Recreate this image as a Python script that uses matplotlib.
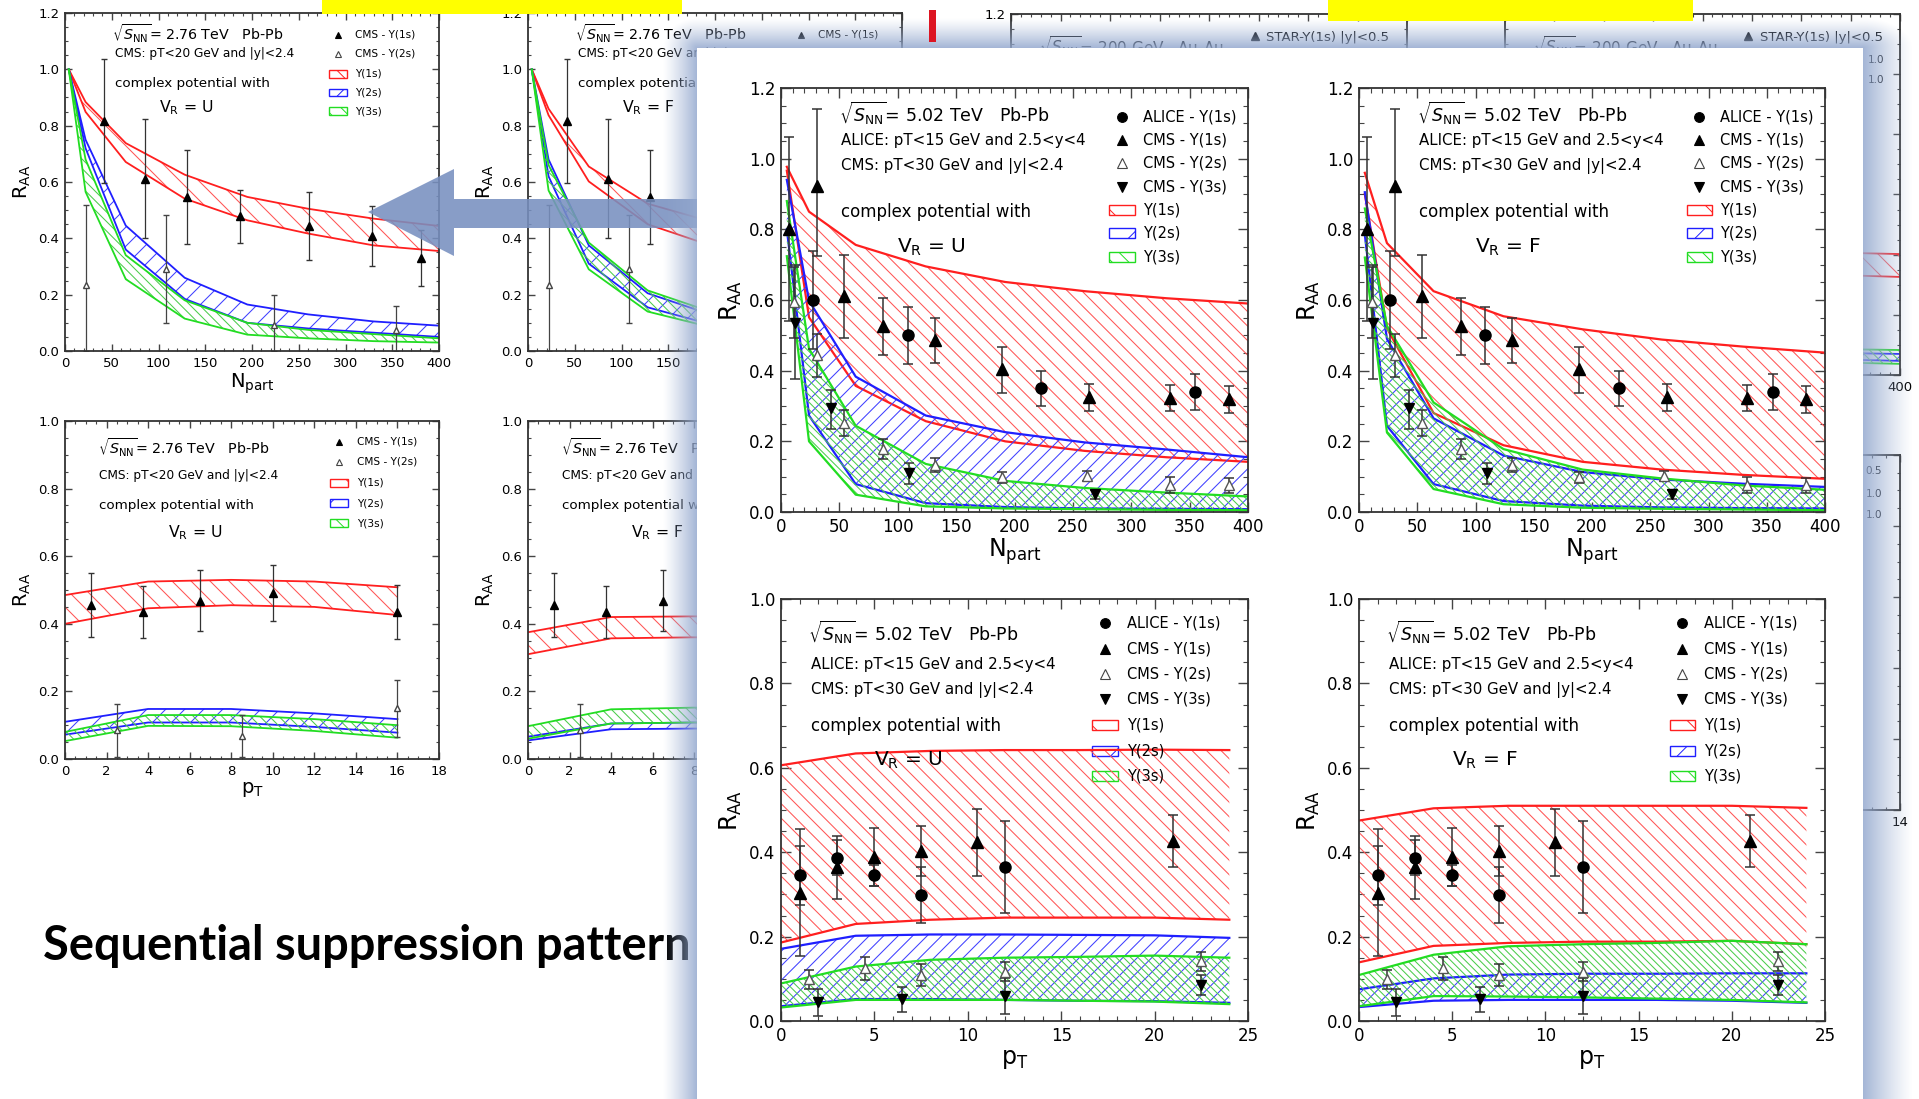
import numpy as np
import matplotlib
matplotlib.use("Agg")
import matplotlib.pyplot as plt
from matplotlib.patches import Rectangle, Polygon
from matplotlib.collections import LineCollection
from matplotlib.transforms import IdentityTransform
from matplotlib.ticker import MultipleLocator, FormatStrFormatter, FuncFormatter

plt.rcParams['font.family'] = ['DejaVu Sans']
plt.rcParams['mathtext.fontset'] = 'dejavusans'
plt.rcParams['hatch.linewidth'] = 0.7

W, H = 1919, 1099
PANEL = (697, 48, 1863, H)   # zoomed picture laid over the slide

# ---------------- 2.76 TeV (background slide) ----------------
npart_276 = [4, 22, 65, 128, 195, 260, 330, 400]
u276_1s_hi = [1.0, 0.884, 0.738, 0.626, 0.547, 0.505, 0.47, 0.444]
u276_1s_lo = [1.0, 0.849, 0.671, 0.541, 0.464, 0.417, 0.375, 0.355]
u276_2s_hi = [1.0, 0.75, 0.445, 0.26, 0.165, 0.13, 0.105, 0.09]
u276_2s_lo = [1.0, 0.72, 0.36, 0.185, 0.10, 0.08, 0.065, 0.05]
u276_3s_hi = [1.0, 0.68, 0.34, 0.18, 0.10, 0.075, 0.06, 0.045]
u276_3s_lo = [1.0, 0.565, 0.255, 0.115, 0.058, 0.045, 0.035, 0.03]
f276_1s_hi = [1.0, 0.86, 0.655, 0.523, 0.46, 0.42, 0.39, 0.37]
f276_1s_lo = [1.0, 0.837, 0.602, 0.45, 0.375, 0.335, 0.305, 0.285]
f276_2s_hi = [1.0, 0.68, 0.375, 0.205, 0.13, 0.10, 0.085, 0.075]
f276_2s_lo = [1.0, 0.62, 0.31, 0.155, 0.095, 0.075, 0.06, 0.05]
f276_3s_hi = [1.0, 0.66, 0.385, 0.215, 0.14, 0.11, 0.09, 0.08]
f276_3s_lo = [1.0, 0.57, 0.29, 0.14, 0.085, 0.065, 0.05, 0.045]

cms276_1s_npart = [42, 86, 130, 187, 261, 328, 381]
cms276_1s_raa = [0.816, 0.612, 0.547, 0.478, 0.443, 0.408, 0.33]
cms276_1s_err = [0.22, 0.21, 0.167, 0.094, 0.12, 0.106, 0.099]
cms276_2s_npart = [22, 108, 224, 354]
cms276_2s_raa = [0.235, 0.29, 0.091, 0.073]
cms276_2s_lo = [0.235, 0.19, 0.091, 0.073]
cms276_2s_hi = [0.282, 0.194, 0.107, 0.086]

pt_276 = [0, 4, 8, 12, 16]
u276pt_1s_hi = [0.485, 0.525, 0.53, 0.525, 0.508]
u276pt_1s_lo = [0.40, 0.446, 0.455, 0.45, 0.426]
u276pt_2s_hi = [0.11, 0.148, 0.148, 0.135, 0.118]
u276pt_2s_lo = [0.072, 0.108, 0.108, 0.095, 0.078]
u276pt_3s_hi = [0.08, 0.13, 0.13, 0.118, 0.10]
u276pt_3s_lo = [0.053, 0.098, 0.097, 0.083, 0.063]
f276pt_1s_hi = [0.375, 0.42, 0.422, 0.42, 0.41]
f276pt_1s_lo = [0.31, 0.357, 0.36, 0.358, 0.35]
f276pt_2s_hi = [0.066, 0.105, 0.108, 0.105, 0.098]
f276pt_2s_lo = [0.055, 0.088, 0.09, 0.088, 0.08]
f276pt_3s_hi = [0.097, 0.147, 0.152, 0.15, 0.14]
f276pt_3s_lo = [0.06, 0.105, 0.108, 0.105, 0.095]

cms276_1s_pt = [1.25, 3.75, 6.5, 10, 16]
cms276_1s_pt_raa = [0.455, 0.435, 0.468, 0.49, 0.435]
cms276_1s_pt_err = [0.095, 0.076, 0.09, 0.083, 0.08]
cms276_2s_pt = [2.5, 8.5, 16]
cms276_2s_pt_raa = [0.085, 0.068, 0.15]
cms276_2s_pt_lo = [0.08, 0.063, 0.085]
cms276_2s_pt_hi = [0.078, 0.062, 0.085]

# 200 GeV plot, only its right edge is visible
npart_200 = [360, 400]
b200_1s_hi = [0.405, 0.402]
b200_1s_lo = [0.33, 0.326]
b200_2s_hi = [0.072, 0.07]
b200_2s_lo = [0.05, 0.047]
b200_3s_hi = [0.085, 0.083]
b200_3s_lo = [0.04, 0.037]

# ---------------- 5.02 TeV (zoomed picture) ----------------
npart_502 = [5, 24, 64, 124, 192, 260, 330, 400]
u_1s_hi = [0.977, 0.85, 0.756, 0.695, 0.651, 0.625, 0.605, 0.59]
u_1s_lo = [0.966, 0.551, 0.357, 0.257, 0.20, 0.173, 0.155, 0.142]
u_2s_hi = [0.94, 0.598, 0.383, 0.273, 0.226, 0.197, 0.177, 0.155]
u_2s_lo = [0.80, 0.273, 0.079, 0.025, 0.014, 0.01, 0.009, 0.008]
u_3s_hi = [0.88, 0.462, 0.244, 0.136, 0.088, 0.068, 0.055, 0.044]
u_3s_lo = [0.724, 0.20, 0.049, 0.016, 0.01, 0.008, 0.006, 0.005]
f_1s_hi = [0.96, 0.761, 0.625, 0.554, 0.517, 0.488, 0.468, 0.451]
f_1s_lo = [0.90, 0.52, 0.28, 0.189, 0.142, 0.12, 0.105, 0.094]
f_2s_hi = [0.905, 0.49, 0.265, 0.16, 0.113, 0.092, 0.08, 0.071]
f_2s_lo = [0.785, 0.244, 0.079, 0.031, 0.018, 0.013, 0.011, 0.01]
f_3s_hi = [0.859, 0.527, 0.31, 0.178, 0.12, 0.095, 0.075, 0.063]
f_3s_lo = [0.72, 0.225, 0.065, 0.022, 0.012, 0.009, 0.007, 0.005]

alice_npart = [27, 108.5, 223, 355]
alice_npart_raa = [0.60, 0.50, 0.35, 0.34]
alice_npart_err = [0.14, 0.08, 0.05, 0.05]
cms_1s_npart = [7, 30.5, 54, 87.5, 131.5, 189, 264, 333, 384]
cms_1s_npart_raa = [0.80, 0.924, 0.612, 0.527, 0.488, 0.404, 0.325, 0.323, 0.32]
cms_1s_npart_lo = [0.26, 0.20, 0.119, 0.084, 0.066, 0.068, 0.039, 0.037, 0.04]
cms_1s_npart_hi = [0.26, 0.216, 0.115, 0.08, 0.06, 0.063, 0.036, 0.037, 0.037]
cms_2s_npart = [11, 30.5, 54, 87.5, 131.5, 189, 262, 333, 384]
cms_2s_npart_raa = [0.593, 0.443, 0.252, 0.178, 0.133, 0.098, 0.102, 0.076, 0.076]
cms_2s_npart_err = [0.1, 0.062, 0.038, 0.029, 0.02, 0.016, 0.014, 0.022, 0.021]
cms_3s_npart = [12, 43, 109.5, 269]
cms_3s_npart_raa = [0.536, 0.294, 0.11, 0.052]
cms_3s_npart_lo = [0.16, 0.058, 0.031, 0.015]
cms_3s_npart_hi = [0.164, 0.052, 0.029, 0.011]

pt_502 = [0, 4, 8, 12, 16, 20, 24]
upt_1s_hi = [0.606, 0.634, 0.64, 0.642, 0.642, 0.643, 0.642]
upt_1s_lo = [0.186, 0.23, 0.24, 0.245, 0.245, 0.245, 0.24]
upt_2s_hi = [0.171, 0.202, 0.205, 0.205, 0.204, 0.203, 0.197]
upt_2s_lo = [0.035, 0.052, 0.052, 0.05, 0.048, 0.047, 0.043]
upt_3s_hi = [0.089, 0.129, 0.145, 0.15, 0.152, 0.155, 0.15]
upt_3s_lo = [0.032, 0.05, 0.05, 0.05, 0.048, 0.046, 0.04]
fpt_1s_hi = [0.475, 0.504, 0.51, 0.51, 0.51, 0.51, 0.505]
fpt_1s_lo = [0.139, 0.178, 0.185, 0.188, 0.188, 0.19, 0.182]
fpt_2s_hi = [0.075, 0.101, 0.11, 0.112, 0.112, 0.113, 0.113]
fpt_2s_lo = [0.033, 0.048, 0.05, 0.05, 0.05, 0.048, 0.043]
fpt_3s_hi = [0.109, 0.157, 0.177, 0.182, 0.185, 0.19, 0.182]
fpt_3s_lo = [0.035, 0.059, 0.058, 0.056, 0.053, 0.05, 0.044]

alice_pt = [1, 3, 5, 7.5, 12]
alice_pt_raa = [0.345, 0.387, 0.345, 0.298, 0.365]
alice_pt_err = [0.07, 0.042, 0.025, 0.066, 0.108]
cms_1s_pt = [1, 3, 5, 7.5, 10.5, 21]
cms_1s_pt_raa = [0.304, 0.364, 0.389, 0.403, 0.423, 0.427]
cms_1s_pt_err = [0.15, 0.075, 0.068, 0.059, 0.08, 0.062]
cms_2s_pt = [1.5, 4.5, 7.5, 12, 22.5]
cms_2s_pt_raa = [0.099, 0.125, 0.109, 0.117, 0.141]
cms_2s_pt_err = [0.022, 0.027, 0.026, 0.022, 0.023]
cms_3s_pt = [2, 6.5, 12, 22.5]
cms_3s_pt_raa = [0.045, 0.051, 0.059, 0.085]
cms_3s_pt_err = [0.032, 0.03, 0.043, 0.023]

# line colour, hatch colour, mpl hatch (legend boxes), hatch direction, spacing factor
STY = {'1s': ('#ff1f1f', '#ff5555', '\\', '\\', 1.0),
       '2s': ('#1f1fff', '#4040ff', '/', '/', 1.0),
       '3s': ('#22dd22', '#4ccc4c', '\\\\', '\\', 0.5)}


def px_box(x0, y0, x1, y1):
    return [x0 / W, 1 - y1 / H, (x1 - x0) / W, (y1 - y0) / H]


def under_panel(px, py):
    return PANEL[0] <= px <= PANEL[2] and py >= PANEL[1] - 4


def style(ax, xmaj, xmin, ymaj, ymin, fs, tl, box=None):
    ax.xaxis.set_major_locator(MultipleLocator(xmaj))
    ax.xaxis.set_minor_locator(MultipleLocator(xmin))
    ax.yaxis.set_major_locator(MultipleLocator(ymaj))
    ax.yaxis.set_minor_locator(MultipleLocator(ymin))
    if box is None:
        ax.xaxis.set_major_formatter(FormatStrFormatter('%d'))
        ax.yaxis.set_major_formatter(FormatStrFormatter('%.1f'))
    else:
        # background slide plot: tick labels that sit under the zoomed picture are not shown
        (a, b), (c, d) = ax.get_xlim(), ax.get_ylim()

        def fx(v, p):
            px = box[0] + (v - a) / (b - a) * (box[2] - box[0])
            return '' if under_panel(px, box[3] + 12) else '%d' % v

        def fy(v, p):
            py = box[3] - (v - c) / (d - c) * (box[3] - box[1])
            return '' if under_panel(box[0] - 15, py) else '%.1f' % v
        ax.xaxis.set_major_formatter(FuncFormatter(fx))
        ax.yaxis.set_major_formatter(FuncFormatter(fy))
    ax.tick_params(which='both', direction='in', top=True, right=True, color='#444')
    ax.tick_params(which='major', length=tl, width=1.0, labelsize=fs, pad=4)
    ax.tick_params(which='minor', length=tl * 0.5, width=0.8)
    for s in ax.spines.values():
        s.set_linewidth(1.3)
        s.set_color('#333')


def bands(ax, box, x, items, lw, step):
    # hatched model bands: diagonal lines (pixel spacing) clipped to the band polygon
    X0, X1 = box[0], box[2]
    Yb, Yt = H - box[3], H - box[1]
    for lo, hi, key in items:
        lc, hc, _, direction, f = STY[key]
        poly = ax.fill_between(x, lo, hi, facecolor='none', edgecolor='none', linewidth=0)
        s = step * f
        if direction == '\\':
            segs = [[(c - Yt, Yt), (c - Yb, Yb)] for c in np.arange(X0 + Yb, X1 + Yt, s)]
        else:
            segs = [[(Yb - c, Yb), (Yt - c, Yt)] for c in np.arange(Yb - X1, Yt - X0, s)]
        hl = LineCollection(segs, colors=hc, linewidths=0.75, transform=IdentityTransform())
        ax.add_collection(hl, autolim=False)
        hl.set_clip_path(poly.get_paths()[0], ax.transData)
        ax.plot(x, hi, color=lc, lw=lw, solid_joinstyle='round')
        ax.plot(x, lo, color=lc, lw=lw, solid_joinstyle='round')


def legend(ax, box, mx, tx, ys, items, fs, ms, bw, bh):
    for y, item in zip(ys, items):
        if box is not None:
            px = box[0] + mx * (box[2] - box[0])
            py = box[3] - y * (box[3] - box[1])
            if under_panel(px, py):
                continue
        if item[0] == 'band':
            lc, hc, hatch = STY[item[2]][:3]
            ax.add_patch(Rectangle((mx - bw / 2, y - bh / 2), bw, bh, transform=ax.transAxes,
                                   facecolor='white', edgecolor=lc, hatch=hatch, lw=1.0))
        else:
            ax.plot([mx], [y], marker=item[2], ms=ms, mfc=item[3], mec=item[4], mew=0.8,
                    ls='none', transform=ax.transAxes)
        ax.text(tx, y, item[1], transform=ax.transAxes, fontsize=fs, va='center')


def bg_labels(ax, box, xlabel):
    ax.set_ylabel(r'R$_{\mathrm{AA}}$', fontsize=14)
    ax.yaxis.set_label_coords(-0.085, 0.5)
    # the x label of the right-hand column lies under the zoomed picture
    if not under_panel((box[0] + box[2]) / 2, box[3] + 30):
        ax.set_xlabel(xlabel, fontsize=14)
        ax.xaxis.set_label_coords(0.5, -0.062)


fig = plt.figure(figsize=(W / 100, H / 100), dpi=100)
fig.patch.set_facecolor('white')

bg = fig.add_axes([0, 0, 1, 1])
bg.set_xlim(0, W)
bg.set_ylim(H, 0)
bg.axis('off')

title = bg.text(43, 946, 'Sequential suppression pattern', fontsize=36,
                fontweight='bold', family='Lato', va='center', ha='left', color='black')

# ---------------- background 2.76 TeV plots ----------------
leg276 = [('mk', 'CMS - Y(1s)', '^', 'black', 'black'),
          ('mk', 'CMS - Y(2s)', '^', 'white', '#444'),
          ('band', 'Y(1s)', '1s'), ('band', 'Y(2s)', '2s'), ('band', 'Y(3s)', '3s')]

for box, vr, b1h, b1l, b2h, b2l, b3h, b3l in [
        ((65, 13, 439, 351), 'U', u276_1s_hi, u276_1s_lo, u276_2s_hi, u276_2s_lo, u276_3s_hi, u276_3s_lo),
        ((528, 13, 902, 351), 'F', f276_1s_hi, f276_1s_lo, f276_2s_hi, f276_2s_lo, f276_3s_hi, f276_3s_lo)]:
    ax = fig.add_axes(px_box(*box))
    bands(ax, box, npart_276, [(b1l, b1h, '1s'), (b2l, b2h, '2s'), (b3l, b3h, '3s')], 1.3, 19)
    ax.errorbar(cms276_1s_npart, cms276_1s_raa, yerr=cms276_1s_err, fmt='^', color='black',
                ecolor='#333', ms=6, elinewidth=0.9, capsize=2.5)
    ax.errorbar(cms276_2s_npart, cms276_2s_raa, yerr=[cms276_2s_lo, cms276_2s_hi], fmt='^',
                mfc='white', mec='#444', ecolor='#444', ms=5, elinewidth=0.9, capsize=2.5)
    ax.set_xlim(0, 400)
    ax.set_ylim(0, 1.2)
    style(ax, 50, 10, 0.2, 0.05, 9.5, 5, box)
    bg_labels(ax, box, r'N$_{\mathrm{part}}$')
    ax.text(0.125, 0.94, r'$\sqrt{S_{\mathrm{NN}}}$= 2.76 TeV   Pb-Pb', transform=ax.transAxes,
            fontsize=10.3, va='center')
    ax.text(0.135, 0.88, 'CMS: pT<20 GeV and |y|<2.4', transform=ax.transAxes, fontsize=8.7, va='center')
    ax.text(0.135, 0.79, 'complex potential with', transform=ax.transAxes, fontsize=9.7, va='center')
    ax.text(0.25, 0.72, r'V$_{\mathrm{R}}$ = ' + vr, transform=ax.transAxes, fontsize=11.3, va='center')
    legend(ax, box, 0.73, 0.775, [0.935, 0.88, 0.82, 0.765, 0.71], leg276, 7.6, 5, 0.05, 0.022)

for box, vr, b1h, b1l, b2h, b2l, b3h, b3l in [
        ((65, 421, 439, 759), 'U', u276pt_1s_hi, u276pt_1s_lo, u276pt_2s_hi, u276pt_2s_lo, u276pt_3s_hi, u276pt_3s_lo),
        ((528, 421, 902, 759), 'F', f276pt_1s_hi, f276pt_1s_lo, f276pt_2s_hi, f276pt_2s_lo, f276pt_3s_hi, f276pt_3s_lo)]:
    ax = fig.add_axes(px_box(*box))
    bands(ax, box, pt_276, [(b1l, b1h, '1s'), (b2l, b2h, '2s'), (b3l, b3h, '3s')], 1.3, 19)
    ax.errorbar(cms276_1s_pt, cms276_1s_pt_raa, yerr=cms276_1s_pt_err, fmt='^', color='black',
                ecolor='#333', ms=6, elinewidth=0.9, capsize=2.5)
    ax.errorbar(cms276_2s_pt, cms276_2s_pt_raa, yerr=[cms276_2s_pt_lo, cms276_2s_pt_hi], fmt='^',
                mfc='white', mec='#444', ecolor='#444', ms=5, elinewidth=0.9, capsize=2.5)
    ax.set_xlim(0, 18)
    ax.set_ylim(0, 1.0)
    style(ax, 2, 0.5, 0.2, 0.05, 9.5, 5, box)
    bg_labels(ax, box, r'p$_{\mathrm{T}}$')
    ax.text(0.088, 0.92, r'$\sqrt{S_{\mathrm{NN}}}$= 2.76 TeV   Pb-Pb', transform=ax.transAxes,
            fontsize=10.3, va='center')
    ax.text(0.09, 0.84, 'CMS: pT<20 GeV and |y|<2.4', transform=ax.transAxes, fontsize=8.7, va='center')
    ax.text(0.09, 0.75, 'complex potential with', transform=ax.transAxes, fontsize=9.7, va='center')
    ax.text(0.275, 0.67, r'V$_{\mathrm{R}}$ = ' + vr, transform=ax.transAxes, fontsize=11.3, va='center')
    legend(ax, box, 0.733, 0.78, [0.938, 0.879, 0.817, 0.757, 0.698], leg276, 7.6, 5, 0.05, 0.022)

# ---------------- background 200 GeV plots (mostly hidden) ----------------
for i, box in enumerate([(1011, 14, 1407, 375), (1505, 14, 1900, 375)]):
    ax = fig.add_axes(px_box(*box))
    if i == 1:
        bands(ax, box, npart_200, [(b200_1s_lo, b200_1s_hi, '1s'), (b200_2s_lo, b200_2s_hi, '2s'),
                                   (b200_3s_lo, b200_3s_hi, '3s')], 1.3, 19)
        ax.text(0.96, 0.873, '1.0', transform=ax.transAxes, fontsize=7.5, va='center', ha='right')
        ax.text(0.96, 0.817, '1.0', transform=ax.transAxes, fontsize=7.5, va='center', ha='right')
    ax.set_xlim(0, 400)
    ax.set_ylim(0, 1.2)
    style(ax, 50, 10, 0.2, 0.05, 9.5, 5, box)
    ax.text(0.07, 0.912, r'$\sqrt{S_{\mathrm{NN}}}$= 200 GeV   Au-Au', transform=ax.transAxes,
            fontsize=11, va='center')
    ax.plot([0.615], [0.94], marker='^', ms=5.5, color='black', transform=ax.transAxes)
    ax.text(0.645, 0.934, 'STAR-Y(1s) |y|<0.5', transform=ax.transAxes, fontsize=9.5, va='center')

box = (1505, 455, 1900, 810)
ax = fig.add_axes(px_box(*box))
ax.set_xlim(0, 14)
ax.set_ylim(0, 1.0)
style(ax, 2, 0.5, 0.2, 0.05, 9.5, 5, box)
for yy, s in [(0.955, '0.5'), (0.89, '1.0'), (0.831, '1.0')]:
    ax.text(0.955, yy, s, transform=ax.transAxes, fontsize=7.5, va='center', ha='right')

# ---------------- arrow, glow and the zoomed picture ----------------
ov = fig.add_axes([0, 0, 1, 1])
ov.set_xlim(0, W)
ov.set_ylim(H, 0)
ov.axis('off')
ov.patch.set_alpha(0)
ov.add_patch(Polygon([(368, 212), (454, 169), (454, 199), (700, 199), (700, 228), (454, 228), (454, 256)],
                     closed=True, facecolor='#7890c0', edgecolor='none', alpha=0.88, zorder=1))

gx, gy = np.meshgrid(np.arange(W) + 0.5, np.arange(H) + 0.5)
dist = np.sqrt((np.clip(PANEL[0] - gx, 0, None) / 34 + np.clip(gx - PANEL[2], 0, None) / 50) ** 2
               + (np.clip(PANEL[1] - gy, 0, None) / 30) ** 2)
glow = np.zeros((H, W, 4), dtype=np.float32)
glow[..., 0], glow[..., 1], glow[..., 2] = 0.58, 0.66, 0.81
glow[..., 3] = 0.85 * np.clip(1 - dist, 0, 1) ** 1.2
ov.imshow(glow, extent=(0, W, H, 0), aspect='auto', interpolation='bilinear', zorder=2)
ov.add_patch(Rectangle((PANEL[0], PANEL[1]), PANEL[2] - PANEL[0], PANEL[3] - PANEL[1],
                       facecolor='white', edgecolor='none', zorder=3))
ov.set_xlim(0, W)
ov.set_ylim(H, 0)

leg502 = [('mk', 'ALICE - Y(1s)', 'o', 'black', 'black'),
          ('mk', 'CMS - Y(1s)', '^', 'black', 'black'),
          ('mk', 'CMS - Y(2s)', '^', 'white', '#444'),
          ('mk', 'CMS - Y(3s)', 'v', 'black', 'black'),
          ('band', 'Y(1s)', '1s'), ('band', 'Y(2s)', '2s'), ('band', 'Y(3s)', '3s')]
ek = dict(ecolor='#333', elinewidth=1.1, capsize=3.5, capthick=1.1)

for box, vr, b1h, b1l, b2h, b2l, b3h, b3l in [
        ((781, 88, 1248, 512), 'U', u_1s_hi, u_1s_lo, u_2s_hi, u_2s_lo, u_3s_hi, u_3s_lo),
        ((1359, 88, 1825, 512), 'F', f_1s_hi, f_1s_lo, f_2s_hi, f_2s_lo, f_3s_hi, f_3s_lo)]:
    ax = fig.add_axes(px_box(*box))
    bands(ax, box, npart_502, [(b1l, b1h, '1s'), (b2l, b2h, '2s'), (b3l, b3h, '3s')], 1.6, 14.5)
    ax.errorbar(alice_npart, alice_npart_raa, yerr=alice_npart_err, fmt='o', color='black', ms=8, **ek)
    ax.errorbar(cms_1s_npart, cms_1s_npart_raa, yerr=[cms_1s_npart_lo, cms_1s_npart_hi], fmt='^',
                color='black', ms=8, **ek)
    ax.errorbar(cms_2s_npart, cms_2s_npart_raa, yerr=cms_2s_npart_err, fmt='^', mfc='white',
                mec='#555', ms=6.5, **ek)
    ax.errorbar(cms_3s_npart, cms_3s_npart_raa, yerr=[cms_3s_npart_lo, cms_3s_npart_hi], fmt='v',
                color='black', ms=7.5, **ek)
    ax.set_xlim(0, 400)
    ax.set_ylim(0, 1.2)
    style(ax, 50, 10, 0.2, 0.05, 12, 7)
    ax.set_ylabel(r'R$_{\mathrm{AA}}$', fontsize=17)
    ax.yaxis.set_label_coords(-0.08, 0.5)
    ax.set_xlabel(r'N$_{\mathrm{part}}$', fontsize=17)
    ax.xaxis.set_label_coords(0.5, -0.058)
    ax.text(0.125, 0.94, r'$\sqrt{S_{\mathrm{NN}}}$= 5.02 TeV   Pb-Pb', transform=ax.transAxes,
            fontsize=12.5, va='center')
    ax.text(0.128, 0.875, 'ALICE: pT<15 GeV and 2.5<y<4', transform=ax.transAxes, fontsize=10.8, va='center')
    ax.text(0.128, 0.816, 'CMS: pT<30 GeV and |y|<2.4', transform=ax.transAxes, fontsize=10.8, va='center')
    ax.text(0.128, 0.707, 'complex potential with', transform=ax.transAxes, fontsize=12, va='center')
    ax.text(0.248, 0.625, r'V$_{\mathrm{R}}$ = ' + vr, transform=ax.transAxes, fontsize=14.5, va='center')
    legend(ax, None, 0.73, 0.775, [0.932, 0.877, 0.823, 0.767, 0.712, 0.658, 0.602], leg502, 10.5, 7, 0.054, 0.024)

for box, vr, b1h, b1l, b2h, b2l, b3h, b3l in [
        ((781, 599, 1248, 1021), 'U', upt_1s_hi, upt_1s_lo, upt_2s_hi, upt_2s_lo, upt_3s_hi, upt_3s_lo),
        ((1359, 599, 1825, 1021), 'F', fpt_1s_hi, fpt_1s_lo, fpt_2s_hi, fpt_2s_lo, fpt_3s_hi, fpt_3s_lo)]:
    ax = fig.add_axes(px_box(*box))
    bands(ax, box, pt_502, [(b1l, b1h, '1s'), (b2l, b2h, '2s'), (b3l, b3h, '3s')], 1.6, 14.5)
    ax.errorbar(cms_1s_pt, cms_1s_pt_raa, yerr=cms_1s_pt_err, fmt='^', color='black', ms=8, **ek)
    ax.errorbar(alice_pt, alice_pt_raa, yerr=alice_pt_err, fmt='o', color='black', ms=8, **ek)
    ax.errorbar(cms_2s_pt, cms_2s_pt_raa, yerr=cms_2s_pt_err, fmt='^', mfc='white', mec='#555',
                ms=6.5, **ek)
    ax.errorbar(cms_3s_pt, cms_3s_pt_raa, yerr=cms_3s_pt_err, fmt='v', color='black', ms=7.5, **ek)
    ax.set_xlim(0, 25)
    ax.set_ylim(0, 1.0)
    style(ax, 5, 1, 0.2, 0.05, 12, 7)
    ax.set_ylabel(r'R$_{\mathrm{AA}}$', fontsize=17)
    ax.yaxis.set_label_coords(-0.08, 0.5)
    ax.set_xlabel(r'p$_{\mathrm{T}}$', fontsize=17)
    ax.xaxis.set_label_coords(0.5, -0.062)
    ax.text(0.058, 0.92, r'$\sqrt{S_{\mathrm{NN}}}$= 5.02 TeV   Pb-Pb', transform=ax.transAxes,
            fontsize=12.5, va='center')
    ax.text(0.064, 0.844, 'ALICE: pT<15 GeV and 2.5<y<4', transform=ax.transAxes, fontsize=10.8, va='center')
    ax.text(0.064, 0.784, 'CMS: pT<30 GeV and |y|<2.4', transform=ax.transAxes, fontsize=10.8, va='center')
    ax.text(0.064, 0.70, 'complex potential with', transform=ax.transAxes, fontsize=12, va='center')
    ax.text(0.2, 0.618, r'V$_{\mathrm{R}}$ = ' + vr, transform=ax.transAxes, fontsize=14.5, va='center')
    legend(ax, None, 0.694, 0.741, [0.943, 0.882, 0.822, 0.763, 0.701, 0.64, 0.58], leg502, 10.5, 7, 0.054, 0.024)

# ---------------- top decorations ----------------
top = fig.add_axes([0, 0, 1, 1])
top.set_xlim(0, W)
top.set_ylim(H, 0)
top.axis('off')
top.patch.set_alpha(0)
top.add_patch(Rectangle((322, 0), 682 - 322, 14, facecolor='#ffff00', edgecolor='none'))
top.add_patch(Rectangle((1328, 0), 1693 - 1328, 21, facecolor='#ffff00', edgecolor='none'))
top.add_patch(Rectangle((929, 10), 7, 32, facecolor='#dd1522', edgecolor='none'))

# fit the slide caption to its width in the reference
fig.canvas.draw()
w = title.get_window_extent().width
title.set_fontsize(36 * 648 / w)

fig.savefig('out.png', dpi=100, facecolor='white')
